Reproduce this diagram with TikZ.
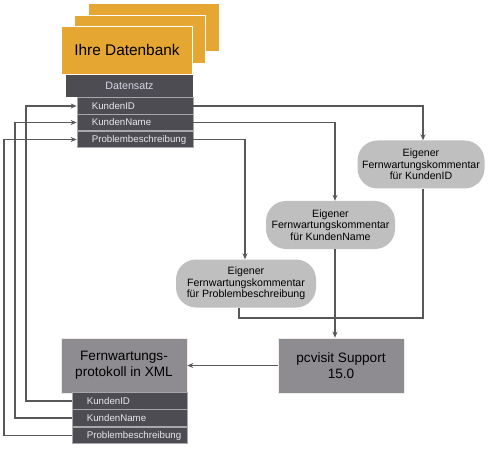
\documentclass[tikz,border=0pt]{standalone}
\usepackage{fontspec}
\setmainfont{Liberation Sans}
\usetikzlibrary{arrows.meta,calc}
\definecolor{dbyellow}{HTML}{E5A731}
\definecolor{darkbar}{HTML}{4D4C52}
\definecolor{lighttext}{HTML}{E6E8EE}
\definecolor{headtext}{HTML}{D3D7E3}
\definecolor{rowline}{HTML}{A8A8AC}
\definecolor{boxgray}{HTML}{8E8C91}
\definecolor{bubblegray}{HTML}{BFBFBF}
\definecolor{linegray}{HTML}{58585A}
\begin{document}
\begin{tikzpicture}[x=1pt,y=-1pt,
  db/.style={fill=dbyellow, draw=white, line width=0.8pt, minimum width=131pt, minimum height=48pt, inner sep=0pt},
  head/.style={fill=darkbar, text=headtext, minimum width=127pt, minimum height=22pt, inner sep=0pt, font=\fontsize{10.7}{12}\selectfont},
  rowbox/.style={fill=darkbar, draw=rowline, line width=0.7pt, minimum height=16.5pt, inner sep=0pt},
  rowtext/.style={anchor=west, text=lighttext, font=\fontsize{9.7}{11}\selectfont, xshift=13pt, inner sep=2pt},
  bubble/.style={fill=bubblegray, rounded corners=20pt, minimum height=48pt, align=center, inner sep=0pt, font=\fontsize{10.6}{11.5}\selectfont},
  bigbox/.style={fill=boxgray, draw=white!85!gray, line width=0.6pt, minimum width=126pt, minimum height=55pt, align=center, inner sep=0pt, font=\fontsize{13.6}{16}\selectfont},
  conn/.style={draw=linegray, line width=1.2pt},
  arr/.style={conn, -{Stealth[length=6pt,width=5pt]}}
]
\useasboundingbox (0,0) rectangle (500,454);

% database stack
\node[db] (db3) at (154,27.5) {};
\node[db] (db2) at (140,39) {};
\node[db, font=\fontsize{15.4}{18}\selectfont] (db1) at (127,50) {Ihre Datenbank};
\node[head] (ds) at (129.5,86) {Datensatz};
\node[rowbox, minimum width=116pt, label={[rowtext]west:KundenID}] (r1) at (135,106) {};
\node[rowbox, minimum width=116pt, label={[rowtext]west:KundenName}] (r2) at (135,122.5) {};
\node[rowbox, minimum width=116pt, label={[rowtext]west:Problembeschreibung}] (r3) at (135,139.5) {};

% comment bubbles
\node[bubble, minimum width=127pt] (b1) at (421,164.5) {Eigener\\Fernwartungskommentar\\für KundenID};
\node[bubble, minimum width=129pt] (b2) at (330.5,225) {Eigener\\Fernwartungskommentar\\für KundenName};
\node[bubble, minimum width=140pt] (b3) at (246,283.5) {Eigener\\Fernwartungskommentar\\für Problembeschreibung};

% lower boxes
\node[bigbox] (pc) at (341,365.5) {pcvisit Support\\15.0};
\node[bigbox] (xml) at (124,365.5) {Fernwartungs-\\protokoll in XML};
\node[rowbox, minimum width=115pt, label={[rowtext]west:KundenID}] (x1) at (129.5,401) {};
\node[rowbox, minimum width=115pt, label={[rowtext]west:KundenName}] (x2) at (129.5,418) {};
\node[rowbox, minimum width=115pt, label={[rowtext]west:Problembeschreibung}] (x3) at (129.5,435.5) {};

% junction and left bend points
\coordinate (j) at (335,318);
\coordinate (l1) at (26,250);
\coordinate (l2) at (15,250);
\coordinate (l3) at (4,250);

% database rows to bubbles
\draw[arr] (r1.east) -| ([xshift=2pt]b1.north);
\draw[arr] (r2.east) -| ([xshift=4.5pt]b2.north);
\draw[arr] (r3.east) -| ([xshift=-1pt]b3.north);

% bubbles to pcvisit
\draw[conn] ([xshift=2pt]b1.south) |- (j);
\draw[conn] ([xshift=-7pt]b3.south) |- (j);
\draw[arr] ([xshift=4.5pt]b2.south) -- ([xshift=-6pt]pc.north);

% pcvisit to XML
\draw[arr] (pc.west) -- (xml.east);

% XML rows back to database rows
\draw[arr] (x1.west) -| (l1) |- (r1.west);
\draw[arr] (x2.west) -| (l2) |- (r2.west);
\draw[arr] (x3.west) -| (l3) |- (r3.west);
\end{tikzpicture}
\end{document}
